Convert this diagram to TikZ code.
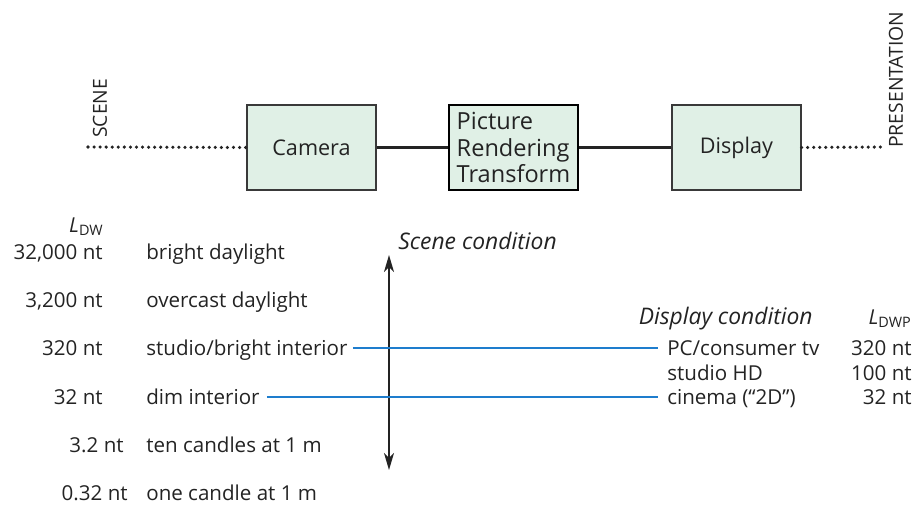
\documentclass[tikz,border=0pt]{standalone}
\usepackage{fontspec}
\setmainfont{Open Sans}
\usetikzlibrary{arrows.meta,positioning}

\definecolor{boxfill}{RGB}{224,240,230}
\definecolor{linkblue}{RGB}{30,125,205}
\definecolor{ink}{RGB}{35,35,35}

\begin{document}
\begin{tikzpicture}[
    x=0.02cm, y=-0.02cm,
    box/.style={draw=ink!90, fill=boxfill, line width=0.7pt, text=ink, minimum width=2.58cm, minimum height=1.7cm, font=\fontsize{12.3}{14}\selectfont},
    prtbox/.style={box, draw=black, line width=1.6pt, align=left, inner sep=2pt, font=\fontsize{13.4}{15.2}\selectfont},
    wire/.style={ink, line width=1.3pt},
    dots/.style={ink, line width=2pt, line cap=round, dash pattern=on 0pt off 3.45pt},
    side/.style={text=ink, inner sep=0pt, rotate=90, anchor=west, font=\fontsize{11}{13}\selectfont},
    lbl/.style={text=ink, inner sep=0pt, text height=12pt, text depth=3pt, font=\fontsize{11.7}{14}\selectfont},
    head/.style={text=ink, inner sep=0pt, font=\fontsize{13}{15}\selectfont\itshape},
    link/.style={linkblue, line width=0.8pt},
    span/.style={{Stealth[length=0.34cm,width=0.2cm,inset=0.1cm]}-{Stealth[length=0.34cm,width=0.2cm,inset=0.1cm]}, ink, line width=1pt}
  ]
    \useasboundingbox (0,0) rectangle (913,504);

    % processing chain
    \node[box] (camera) at (311.5,147.5) {Camera};
    \node[prtbox, right=1.42cm of camera] (prt) {Picture\\Rendering\\Transform};
    \node[box, right=1.84cm of prt] (display) {Display};
    \coordinate (scenein) at (88,147);
    \coordinate (presout) at (884,147);
    \node[side] (scene) at (100,138) {SCENE};
    \node[side] (presentation) at (896,148) {PRESENTATION};

    \draw[dots] (scenein) -- (camera.west);
    \draw[wire] (camera) -- (prt);
    \draw[wire] (prt) -- (display);
    \draw[dots] (display.east) -- (presout);

    % scene luminances
    \node[text=ink, inner sep=0pt, anchor=base east, font=\fontsize{11.7}{14}\selectfont] (ldw) at (104,232) {\textit{L}\textsubscript{DW}};
    \node[lbl, anchor=east] (n32000) at (103,252) {32,000 nt};
    \node[lbl, anchor=west] (bright) at (146,252) {bright daylight};
    \node[lbl, anchor=east] (n3200) at (103,300) {3,200 nt};
    \node[lbl, anchor=west] (overcast) at (146,300) {overcast daylight};
    \node[lbl, anchor=east] (n320) at (103,348) {320 nt};
    \node[lbl, anchor=west] (studio) at (146,348) {studio/bright interior};
    \node[lbl, anchor=east] (n32) at (103,397) {32 nt};
    \node[lbl, anchor=west] (dim) at (146,397) {dim interior};
    \node[lbl, anchor=east] (n3p2) at (124,445) {3.2 nt};
    \node[lbl, anchor=west] (tencandles) at (146,445) {ten candles at 1 m};
    \node[lbl, anchor=east] (n0p32) at (128,493) {0.32 nt};
    \node[lbl, anchor=west] (onecandle) at (146,493) {one candle at 1 m};

    % scene range
    \coordinate (scenetop) at (389,255);
    \coordinate (scenebot) at (389,470);
    \draw[span] (scenebot) -- (scenetop);
    \node[head, anchor=base west] (scenecond) at (398,249) {Scene condition};

    % display luminances
    \node[head, anchor=base east] (dispcond) at (813,324) {Display condition};
    \node[text=ink, inner sep=0pt, anchor=base east, font=\fontsize{11.7}{14}\selectfont] (ldwp) at (912,324) {\textit{L}\textsubscript{DWP}};
    \node[lbl, anchor=west] (pc) at (667,348) {PC/consumer tv};
    \node[lbl, anchor=east] (d320) at (912,348) {320 nt};
    \node[lbl, anchor=west] (studiohd) at (667,372.5) {studio HD};
    \node[lbl, anchor=east] (d100) at (912,372.5) {100 nt};
    \node[lbl, anchor=west] (cinema) at (667,397) {cinema (“2D")};
    \node[lbl, anchor=east] (d32) at (912,397) {32 nt};

    \draw[link] ([xshift=0.1cm]studio.east) -- ([xshift=-0.18cm]pc.west);
    \draw[link] ([xshift=0.14cm]dim.east) -- ([xshift=-0.18cm]cinema.west);
  \end{tikzpicture}
\end{document}
